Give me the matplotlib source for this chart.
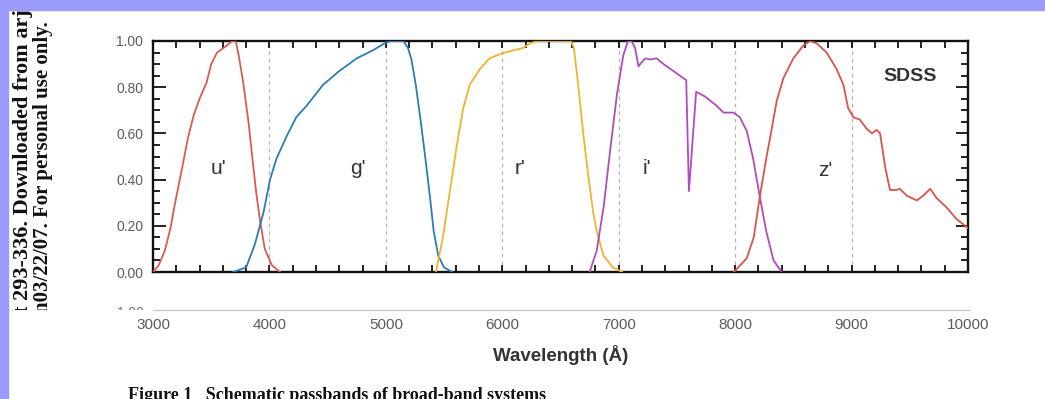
import matplotlib
matplotlib.use('Agg')
import matplotlib.pyplot as plt
from matplotlib.patches import Rectangle
from matplotlib.ticker import MultipleLocator, FormatStrFormatter
from matplotlib.transforms import Bbox, TransformedBbox

# SDSS filter response curves (wavelength in Angstrom, normalised transmission)
u_wave = [3000, 3050, 3100, 3150, 3190, 3250, 3300, 3350, 3400, 3460, 3500, 3550,
          3620, 3680, 3710, 3735, 3775, 3820, 3850, 3885, 3920, 3960, 4020, 4090]
u_trans = [0.0, 0.03, 0.09, 0.19, 0.30, 0.45, 0.58, 0.68, 0.75, 0.82, 0.90, 0.95,
           0.975, 1.0, 1.0, 0.94, 0.82, 0.65, 0.51, 0.35, 0.22, 0.10, 0.03, 0.0]

g_wave = [3690, 3800, 3875, 3950, 4005, 4060, 4150, 4230, 4320, 4460, 4600, 4750,
          4890, 4990, 5040, 5150, 5190, 5220, 5260, 5300, 5340, 5380, 5410, 5450,
          5500, 5570]
g_trans = [0.0, 0.02, 0.12, 0.26, 0.40, 0.49, 0.59, 0.67, 0.72, 0.81, 0.87, 0.925,
           0.96, 0.99, 1.0, 1.0, 0.97, 0.92, 0.80, 0.65, 0.49, 0.32, 0.18, 0.07,
           0.02, 0.0]

r_wave = [5430, 5490, 5550, 5610, 5665, 5720, 5810, 5890, 6000, 6100, 6180, 6240,
          6300, 6590, 6615, 6650, 6695, 6740, 6780, 6810, 6870, 6950, 7030]
r_trans = [0.0, 0.15, 0.35, 0.55, 0.71, 0.81, 0.88, 0.925, 0.947, 0.96, 0.97, 0.99,
           1.0, 1.0, 0.97, 0.82, 0.60, 0.41, 0.26, 0.18, 0.07, 0.02, 0.0]

i_wave = [6750, 6810, 6870, 6925, 6985, 7040, 7080, 7110, 7140, 7170, 7200, 7230,
          7270, 7325, 7385, 7470, 7580, 7603, 7665, 7740, 7840, 7900, 7985, 8040,
          8100, 8155, 8210, 8270, 8330, 8400]
i_trans = [0.0, 0.09, 0.28, 0.52, 0.77, 0.94, 1.0, 1.0, 0.97, 0.89, 0.91, 0.925,
           0.92, 0.925, 0.90, 0.87, 0.83, 0.35, 0.78, 0.76, 0.72, 0.69, 0.69, 0.67,
           0.61, 0.49, 0.33, 0.17, 0.05, 0.0]

z_wave = [7990, 8100, 8160, 8213, 8270, 8300, 8357, 8415, 8500, 8585, 8645, 8700,
          8785, 8870, 8930, 8970, 9015, 9070, 9130, 9175, 9215, 9245, 9290, 9330,
          9385, 9415, 9475, 9560, 9615, 9675, 9730, 9815, 9900, 10000]
z_trans = [0.0, 0.06, 0.15, 0.33, 0.50, 0.58, 0.74, 0.84, 0.925, 0.98, 1.0, 0.99,
           0.95, 0.88, 0.81, 0.71, 0.67, 0.66, 0.62, 0.60, 0.615, 0.60, 0.45, 0.355,
           0.355, 0.36, 0.33, 0.31, 0.33, 0.36, 0.32, 0.28, 0.23, 0.19]

band_names = ["u'", "g'", "r'", "i'", "z'"]
band_label_x = [3560, 4760, 6150, 7245, 8770]
band_label_y = [0.45, 0.45, 0.45, 0.45, 0.44]
divider_waves = [4000, 5000, 6000, 7000, 8000, 9000]
xtick_labels = ['3000', '4000', '5000', '6000', '7000', '8000', '9000', '10000']

colors = {'u': '#db5a52', 'g': '#2b7db8', 'r': '#f2b232', 'i': '#b04cbe', 'z': '#d9534c'}

W, H = 1045, 399
fig = plt.figure(figsize=(W / 100, H / 100), dpi=100)
fig.patch.set_facecolor('white')

# pixel-space layer for the page furniture around the plot
bg = fig.add_axes([0, 0, 1, 1], zorder=0)
bg.set_xlim(0, W)
bg.set_ylim(H, 0)
bg.axis('off')

page_clip = TransformedBbox(Bbox([[0, (H - 310) / 100], [W / 100, (H - 10) / 100]]),
                            fig.dpi_scale_trans)
side_font = dict(family='Liberation Serif', weight='bold', color='#111111',
                 rotation=90, rotation_mode='anchor', ha='left', va='center')
for xpos, size, txt in [(23, 16, 't 293-336. Downloaded from arjournals.annualreviews.org'),
                        (43, 15, 'n03/22/07. For personal use only.')]:
    t = bg.text(xpos, 313, txt, fontsize=size, **side_font)
    t.set_clip_box(page_clip)
    t.set_clip_on(True)

# stray axis labels from the neighbouring panels
t = bg.text(144, 4, '1.20', ha='right', va='center', fontsize=10, color='#777777',
            family='Liberation Sans')
t = bg.text(144, 306, '1.00', ha='right', va='top', fontsize=10, color='#777777',
            family='Liberation Sans')
t.set_clip_box(page_clip)
t.set_clip_on(True)
bg.plot([153, 970], [310, 310], color='#c8c8c8', lw=0.9)

# figure caption, cut by the page edge
bg.text(128, 387, 'Figure 1   Schematic passbands of broad-band systems', ha='left',
        va='top', family='Liberation Serif', weight='bold', fontsize=13, color='#111111')

bg.add_patch(Rectangle((0, 0), W, 10, color='#9b9bfb', zorder=10, clip_on=False))
bg.add_patch(Rectangle((0, 0), 8, H, color='#9b9bfb', zorder=10, clip_on=False))

# main panel
ax = fig.add_axes([153 / W, (H - 272) / H, 815 / W, 231 / H], zorder=2)
ax.set_xlim(3000, 10000)
ax.set_ylim(0, 1)

for xv in divider_waves:
    ax.axvline(xv, color='#b5b5b5', lw=0.9, ls=(0, (3, 3)), zorder=1)

ax.plot(u_wave, u_trans, color=colors['u'], lw=1.3, zorder=3)
ax.plot(g_wave, g_trans, color=colors['g'], lw=1.3, zorder=3)
ax.plot(r_wave, r_trans, color=colors['r'], lw=1.3, zorder=3)
ax.plot(i_wave, i_trans, color=colors['i'], lw=1.3, zorder=3)
ax.plot(z_wave, z_trans, color=colors['z'], lw=1.3, zorder=3)

for name, xv, yv in zip(band_names, band_label_x, band_label_y):
    ax.text(xv, yv, name, ha='center', va='center', fontsize=15, color='#333333',
            family='Liberation Sans')
ax.text(9500, 0.845, 'SDSS', ha='center', va='center', fontsize=14, weight='bold',
        color='#333333', family='Liberation Sans')

for side in ax.spines.values():
    side.set_linewidth(1.7)
    side.set_color('#111111')

ax.xaxis.set_major_locator(MultipleLocator(1000))
ax.xaxis.set_minor_locator(MultipleLocator(200))
ax.yaxis.set_major_locator(MultipleLocator(0.2))
ax.yaxis.set_minor_locator(MultipleLocator(0.05))
ax.yaxis.set_major_formatter(FormatStrFormatter('%.2f'))
ax.set_xticks(range(3000, 10001, 1000))
ax.set_xticklabels(xtick_labels)

ax.tick_params(axis='x', which='both', direction='in', top=True, bottom=True,
               length=5, width=1.3, color='#111111')
ax.tick_params(axis='x', which='major', pad=33, labelsize=11, labelcolor='#5c5c5c')
ax.tick_params(axis='y', which='both', direction='in', left=True, right=True,
               width=1.3, color='#111111')
ax.tick_params(axis='y', which='major', length=9, pad=7, labelsize=10,
               labelcolor='#5c5c5c')
ax.tick_params(axis='y', which='minor', length=5)
for lab in ax.get_xticklabels() + ax.get_yticklabels():
    lab.set_family('Liberation Sans')

fig.text(560.5 / W, 1 - 355 / H, 'Wavelength (Å)', ha='center', va='center',
         fontsize=13.5, weight='bold', color='#333333', family='Liberation Sans')

fig.savefig('out.png', dpi=100)
